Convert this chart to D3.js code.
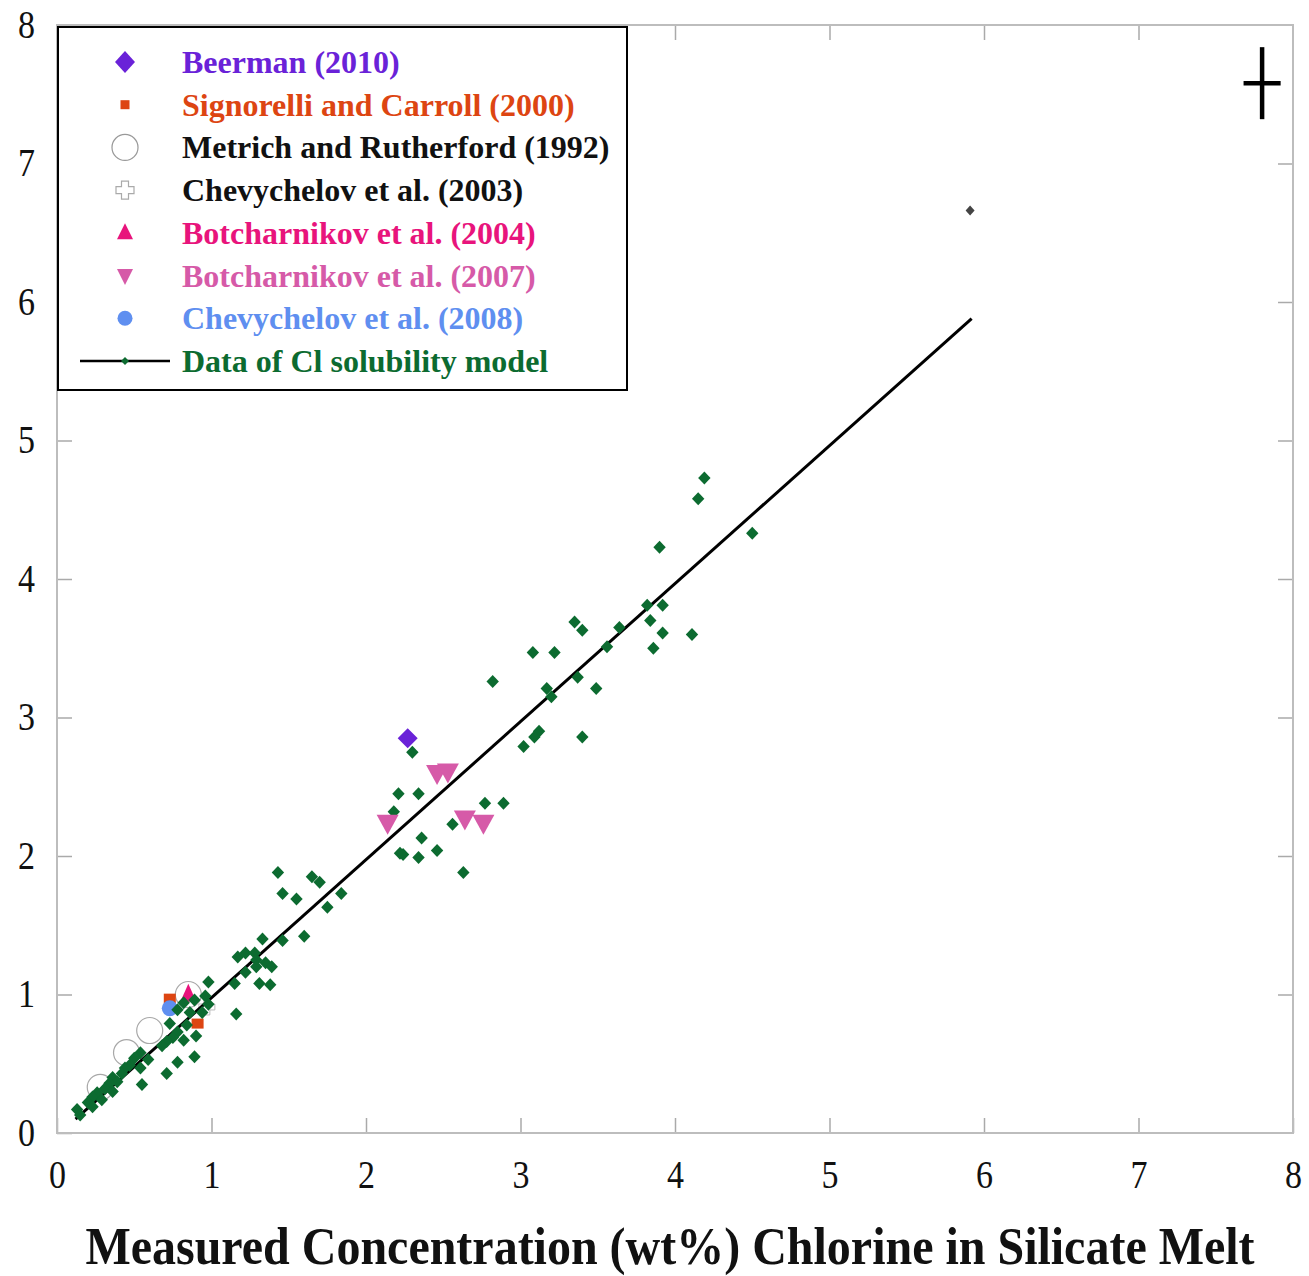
<!DOCTYPE html>
<html>
<head>
  <meta charset="UTF-8">
  <title>Cl solubility model</title>
  <style>
    body { margin: 0; background: #fff; }
    svg text { font-family: "Liberation Serif", "Times New Roman", serif; }
    .tick line { stroke: #aaa; stroke-width: 1.5px; }
    .domain { display: none; }
  </style>
</head>
<body>
  <script src="https://d3js.org/d3.v7.min.js"></script>
  <script>
    // measured vs modelled Cl (wt%)
    const beerman = [[2.27, 2.85]];
    const signorelli = [[0.73, 0.97], [0.91, 0.79]];
    const metrich = [[0.85, 1.00], [0.60, 0.74], [0.45, 0.58], [0.28, 0.33]];
    const chevy2003 = [[0.97, 0.91]];
    const botch2004 = [[0.85, 1.00]];
    const botch2007 = [[2.46, 2.60], [2.53, 2.61], [2.14, 2.24], [2.64, 2.27], [2.76, 2.24]];
    const chevy2008 = [[0.73, 0.90]];
    const modelLine = [[0.12, 0.10], [5.92, 5.88]];
    const outlier = [[5.91, 6.66]];
    const errorBar = { x: 7.8, y: 7.58, dx: 0.12, dy: 0.26 };
    const modelData = [
      [4.19, 4.73], [4.15, 4.58], [4.50, 4.33], [3.90, 4.23], [3.82, 3.81], [3.92, 3.81],
      [3.84, 3.70], [3.92, 3.61], [3.86, 3.50], [4.11, 3.60], [3.64, 3.65], [3.56, 3.51],
      [3.35, 3.69], [3.40, 3.63], [3.08, 3.47], [3.22, 3.47], [3.37, 3.29], [3.49, 3.21],
      [3.17, 3.21], [3.20, 3.15], [3.12, 2.90], [3.09, 2.86], [3.02, 2.79], [3.40, 2.86],
      [2.82, 3.26], [2.30, 2.75], [2.21, 2.45], [2.34, 2.45], [2.18, 2.32], [2.77, 2.38],
      [2.89, 2.38], [2.56, 2.23], [2.36, 2.13], [2.22, 2.02], [2.24, 2.01], [2.34, 1.99],
      [2.46, 2.04], [2.63, 1.88],
      [1.43, 1.88], [1.65, 1.85], [1.70, 1.81], [1.84, 1.73], [1.46, 1.73], [1.55, 1.69],
      [1.75, 1.63], [1.33, 1.40], [1.46, 1.39], [1.60, 1.42], [1.17, 1.27], [1.22, 1.30],
      [1.28, 1.30], [1.29, 1.25], [1.29, 1.20], [1.35, 1.23], [1.39, 1.20], [1.22, 1.16],
      [1.15, 1.08], [0.98, 1.09], [1.31, 1.08], [1.38, 1.07], [0.96, 0.99], [0.89, 0.96],
      [0.98, 0.93], [1.16, 0.86], [0.94, 0.87],
      [0.82, 0.94], [0.78, 0.89], [0.86, 0.87], [0.73, 0.79], [0.84, 0.78], [0.78, 0.73],
      [0.90, 0.70], [0.75, 0.69], [0.82, 0.67], [0.71, 0.66], [0.68, 0.63], [0.89, 0.55],
      [0.78, 0.51], [0.71, 0.43], [0.59, 0.53], [0.54, 0.58], [0.50, 0.54], [0.47, 0.49],
      [0.44, 0.47], [0.54, 0.47], [0.42, 0.43], [0.36, 0.40], [0.39, 0.37], [0.34, 0.36],
      [0.55, 0.35], [0.31, 0.32], [0.36, 0.30], [0.26, 0.29], [0.23, 0.26], [0.29, 0.24],
      [0.20, 0.22], [0.23, 0.19], [0.13, 0.17], [0.15, 0.13]
    ];
    const ticks = [0, 1, 2, 3, 4, 5, 6, 7, 8];
    const legendItems = [
      { label: "Beerman (2010)", color: "#6a22d8", sym: "diamond" },
      { label: "Signorelli and Carroll (2000)", color: "#dd4512", sym: "square" },
      { label: "Metrich and Rutherford (1992)", color: "#111", sym: "circle" },
      { label: "Chevychelov et al. (2003)", color: "#111", sym: "plus" },
      { label: "Botcharnikov et al. (2004)", color: "#e8147c", sym: "up" },
      { label: "Botcharnikov et al. (2007)", color: "#d65aa8", sym: "down" },
      { label: "Chevychelov et al. (2008)", color: "#5f8ff0", sym: "dot" },
      { label: "Data of Cl solubility model", color: "#0c6b30", sym: "line" }
    ];

    const width = 1309, height = 1276;
    const svg = d3.select("body").append("svg").attr("width", width).attr("height", height);

    const x = d3.scaleLinear().domain([0, 8]).range([57, 1293]);
    const y = d3.scaleLinear().domain([0, 8]).range([1133, 25]);

    // inner ticks on all four sides
    svg.append("g").attr("transform", `translate(0,${y(0)})`)
      .call(d3.axisBottom(x).tickValues(ticks).tickSize(-15).tickPadding(26).tickFormat(d3.format("d")))
      .call(g => g.selectAll("text").attr("font-size", 34).attr("fill", "#111"));
    svg.append("g").attr("transform", `translate(0,${y(8)})`)
      .call(d3.axisTop(x).tickValues(ticks.slice(1, -1)).tickSize(-15).tickFormat(""));
    svg.append("g").attr("transform", `translate(${x(0)},0)`)
      .call(d3.axisLeft(y).tickValues(ticks).tickSize(-15).tickPadding(22).tickFormat(d3.format("d")))
      .call(g => g.selectAll("text").attr("font-size", 34).attr("fill", "#111").attr("dy", "0.3em"));
    svg.append("g").attr("transform", `translate(${x(8)},0)`)
      .call(d3.axisRight(y).tickValues(ticks.slice(1, -1)).tickSize(-15).tickFormat(""));

    svg.selectAll(".tick text").each(function () {
      const t = d3.select(this);
      const yy = +t.attr("y") || 0, xx = +t.attr("x") || 0;
      t.attr("transform", `translate(${xx},${yy}) scale(1,1.2)`).attr("x", 0).attr("y", 0);
    });

    // frame
    svg.append("rect")
      .attr("x", x(0)).attr("y", y(8))
      .attr("width", x(8) - x(0)).attr("height", y(0) - y(8))
      .attr("fill", "none").attr("stroke", "#bdbdbd").attr("stroke-width", 2);

    const diamond = (w, h) => `M0,${-h}L${w},0L0,${h}L${-w},0Z`;
    const triUp = (w, h) => `M0,${-h * 0.6}L${w},${h * 0.4}L${-w},${h * 0.4}Z`;
    const triDown = (w, h) => `M0,${h * 0.6}L${w},${-h * 0.4}L${-w},${-h * 0.4}Z`;
    const plusPath = (a, b) => `M${-b},${-a}H${b}V${-b}H${a}V${b}H${b}V${a}H${-b}V${b}H${-a}V${-b}H${-b}Z`;

    const plot = svg.append("g");

    plot.selectAll(".metrich").data(metrich).join("circle")
      .attr("cx", d => x(d[0])).attr("cy", d => y(d[1])).attr("r", 13)
      .attr("fill", "none").attr("stroke", "#a8a8a8").attr("stroke-width", 1.2);

    plot.selectAll(".chevy03").data(chevy2003).join("path")
      .attr("transform", d => `translate(${x(d[0])},${y(d[1])})`)
      .attr("d", plusPath(8, 3)).attr("fill", "none").attr("stroke", "#bbb").attr("stroke-width", 1);

    plot.selectAll(".sign").data(signorelli).join("rect")
      .attr("x", d => x(d[0]) - 6).attr("y", d => y(d[1]) - 5)
      .attr("width", 12).attr("height", 10).attr("fill", "#dd4512");

    plot.selectAll(".chevy08").data(chevy2008).join("circle")
      .attr("cx", d => x(d[0])).attr("cy", d => y(d[1])).attr("r", 8).attr("fill", "#5f8ff0");

    plot.selectAll(".botch04").data(botch2004).join("path")
      .attr("transform", d => `translate(${x(d[0])},${y(d[1])})`)
      .attr("d", triUp(8, 18)).attr("fill", "#e8147c");

    plot.append("path")
      .attr("d", d3.line().x(d => x(d[0])).y(d => y(d[1]))(modelLine))
      .attr("stroke", "#000").attr("stroke-width", 3).attr("fill", "none");

    plot.selectAll(".model").data(modelData).join("path")
      .attr("transform", d => `translate(${x(d[0])},${y(d[1])})`)
      .attr("d", diamond(6.2, 6.5)).attr("fill", "#0c6b30");

    plot.selectAll(".outlier").data(outlier).join("path")
      .attr("transform", d => `translate(${x(d[0])},${y(d[1])})`)
      .attr("d", diamond(4.5, 5)).attr("fill", "#444");

    plot.selectAll(".botch07").data(botch2007).join("path")
      .attr("transform", d => `translate(${x(d[0])},${y(d[1])})`)
      .attr("d", triDown(11, 20)).attr("fill", "#d65aa8");

    plot.selectAll(".beer").data(beerman).join("path")
      .attr("transform", d => `translate(${x(d[0])},${y(d[1])})`)
      .attr("d", diamond(10, 10)).attr("fill", "#6a22d8");

    // error cross
    const eb = svg.append("g").attr("stroke", "#000").attr("stroke-width", 4.5);
    eb.append("line").attr("x1", x(errorBar.x)).attr("x2", x(errorBar.x))
      .attr("y1", y(errorBar.y - errorBar.dy)).attr("y2", y(errorBar.y + errorBar.dy));
    eb.append("line").attr("x1", x(errorBar.x - errorBar.dx)).attr("x2", x(errorBar.x + errorBar.dx))
      .attr("y1", y(errorBar.y)).attr("y2", y(errorBar.y));

    // legend
    const lg = svg.append("g");
    lg.append("rect").attr("x", 58).attr("y", 27).attr("width", 569).attr("height", 363)
      .attr("fill", "#fff").attr("stroke", "#000").attr("stroke-width", 2);
    legendItems.forEach((it, i) => {
      const cy = 62 + i * 42.7, cx = 125;
      const s = lg.append("g").attr("transform", `translate(${cx},${cy})`);
      if (it.sym === "diamond") s.append("path").attr("d", diamond(10, 11)).attr("fill", it.color);
      if (it.sym === "square") s.append("rect").attr("x", -4.5).attr("y", -4.5).attr("width", 9).attr("height", 9).attr("fill", it.color);
      if (it.sym === "circle") s.append("circle").attr("r", 13).attr("fill", "none").attr("stroke", "#999").attr("stroke-width", 1.2);
      if (it.sym === "plus") s.append("path").attr("d", plusPath(9, 3.5)).attr("fill", "none").attr("stroke", "#aaa").attr("stroke-width", 1.2);
      if (it.sym === "up") s.append("path").attr("d", triUp(8, 16)).attr("fill", it.color);
      if (it.sym === "down") s.append("path").attr("d", triDown(8, 16)).attr("fill", it.color);
      if (it.sym === "dot") s.append("circle").attr("r", 7.5).attr("fill", it.color);
      if (it.sym === "line") {
        s.append("line").attr("x1", -45).attr("x2", 45).attr("stroke", "#000").attr("stroke-width", 2.5);
        s.append("path").attr("d", diamond(4, 4)).attr("fill", "#0c6b30");
      }
      lg.append("text").attr("x", 182).attr("y", cy + 11)
        .attr("font-size", 32).attr("font-weight", "bold").attr("fill", it.color)
        .text(it.label);
    });

    // axis title
    svg.append("text").attr("transform", "translate(670,1264) scale(1,1.1)")
      .attr("text-anchor", "middle").attr("font-size", 48).attr("font-weight", "bold")
      .attr("fill", "#111")
      .text("Measured Concentration (wt%) Chlorine in Silicate Melt");
  </script>
</body>
</html>
